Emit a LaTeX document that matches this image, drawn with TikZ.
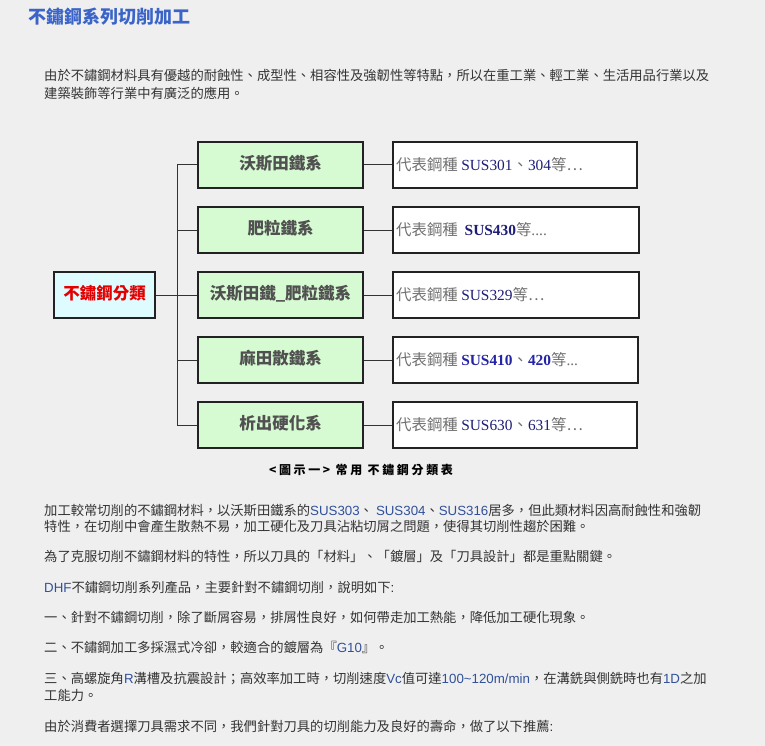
\documentclass[tikz,border=0pt]{standalone}
\usepackage{fontspec}
\setmainfont{Liberation Sans}
\newfontfamily\cjk{Noto Sans CJK TC}
\newfontfamily\lat{Liberation Sans}
\newfontfamily\tms{Liberation Serif}
\newfontfamily\cjkcap{Noto Sans CJK TC}[LetterSpace=22]
\definecolor{bg}{HTML}{EFEFEF}
\definecolor{txt}{HTML}{333333}
\definecolor{ttl}{HTML}{3A64C8}
\definecolor{rootfill}{HTML}{DEFCFF}
\definecolor{grnfill}{HTML}{D6FAD2}
\definecolor{grntxt}{HTML}{505050}
\definecolor{gtxt}{HTML}{707070}
\definecolor{navy}{HTML}{1E1E78}
\definecolor{blu}{HTML}{2424A8}
\definecolor{latc}{HTML}{30509A}
\definecolor{edge}{HTML}{222222}
\newcommand{\LA}[1]{{\lat\color{latc}#1}}
\newcommand{\SU}[1]{{\tms\color{navy}#1}}
\begin{document}
\begin{tikzpicture}[x=1pt,y=-1pt,
  body/.style={anchor=base west,inner sep=0pt,text=txt,font=\cjk\fontsize{13.3}{16}\selectfont},
  rootbox/.style={draw=edge,line width=1.2pt,fill=rootfill,minimum width=101pt,minimum height=46pt,inner sep=0pt,
     text=red!90!black,font=\cjk\bfseries\fontsize{16.5}{18}\selectfont},
  grnbox/.style={draw=edge,line width=1.2pt,fill=grnfill,minimum width=165pt,minimum height=46pt,inner sep=0pt,
     text=grntxt,font=\cjk\bfseries\fontsize{16.5}{18}\selectfont},
  whtbox/.style={draw=edge,line width=1.2pt,fill=white,minimum width=244pt,minimum height=46pt,inner sep=0pt},
  whttxt/.style={anchor=west,inner sep=0pt,text=gtxt,font=\cjk\fontsize{15.4}{18}\selectfont},
  conn/.style={draw=txt,line width=1pt}
]
\fill[bg] (0,0) rectangle (765,746);
\useasboundingbox (0,0) rectangle (765,746);

% title
\node[anchor=base west,inner sep=0pt,text=ttl,font=\cjk\bfseries\fontsize{18}{20}\selectfont] (title) at (28,24) {不鏽鋼系列切削加工};

% intro paragraph
\node[body] (p1a) at (44,81) {由於不鏽鋼材料具有優越的耐蝕性、成型性、相容性及強韌性等特點，所以在重工業、輕工業、生活用品行業以及};
\node[body] (p1b) at (44,99) {建築裝飾等行業中有廣泛的應用。};

% diagram
\node[rootbox] (root) at (104.5,295) {\raisebox{6pt}{不鏽鋼分類}};

\node[grnbox] (g1) at (280.5,165) {\raisebox{6pt}{沃斯田鐵系}};
\node[grnbox] (g2) at (280.5,230) {\raisebox{6pt}{肥粒鐵系}};
\node[grnbox] (g3) at (280.5,295) {\raisebox{6pt}{沃斯田鐵\_肥粒鐵系}};
\node[grnbox] (g4) at (280.5,360) {\raisebox{6pt}{麻田散鐵系}};
\node[grnbox] (g5) at (280.5,425) {\raisebox{6pt}{析出硬化系}};

\node[whtbox] (w1) at (515,165) {};
\node[whtbox,minimum width=246pt] (w2) at (516,230) {};
\node[whtbox,minimum width=246pt] (w3) at (516,295) {};
\node[whtbox,minimum width=245pt] (w4) at (515.5,360) {};
\node[whtbox] (w5) at (515,425) {};

\node[whttxt] (t1) at (396,165) {代表鋼種 \SU{SUS301}、\SU{304}等…};
\node[whttxt] (t2) at (396,230) {代表鋼種\ \ {\tms\bfseries\color{navy}SUS430}等{\tms....}};
\node[whttxt] (t3) at (396,295) {代表鋼種 \SU{SUS329}等…};
\node[whttxt] (t4) at (396,360) {代表鋼種 {\tms\bfseries\color{blu}SUS410}、{\tms\bfseries\color{blu}420}等{\tms...}};
\node[whttxt] (t5) at (396,425) {代表鋼種 \SU{SUS630}、\SU{631}等…};

\coordinate (vtop) at (177,165);
\coordinate (vbot) at (177,425);
\coordinate (vmid) at (177,295);
\draw[conn] (vtop) -- (vbot);
\draw[conn] (root.east) -- (g3.west);
\foreach \i in {1,2,4,5} { \draw[conn] (g\i.west -| vtop) -- (g\i.west); }
\foreach \i in {1,...,5} { \draw[conn] (g\i.east) -- (w\i.west); }

\node[anchor=center,inner sep=0pt,text=black,font=\cjkcap\bfseries\fontsize{12}{14}\selectfont] (cap) at (361,470) {<圖示一> 常用 不鏽鋼分類表};

% lower paragraphs
\node[body] (p2a) at (44,515) {加工較常切削的不鏽鋼材料，以沃斯田鐵系的\LA{SUS303}、 \LA{SUS304}、\LA{SUS316}居多，但此類材料因高耐蝕性和強韌};
\node[body] (p2b) at (44,531) {特性，在切削中會產生散熱不易，加工硬化及刀具沾粘切屑之問題，使得其切削性趨於困難。};
\node[body] (p3) at (44,561) {為了克服切削不鏽鋼材料的特性，所以刀具的「材料」、「鍍層」及「刀具設計」都是重點關鍵。};
\node[body] (p4) at (44,592) {\LA{DHF}不鏽鋼切削系列產品，主要針對不鏽鋼切削，說明如下{\lat:}};
\node[body] (p5) at (44,622) {一、針對不鏽鋼切削，除了斷屑容易，排屑性良好，如何帶走加工熱能，降低加工硬化現象。};
\node[body] (p6) at (44,652) {二、不鏽鋼加工多採濕式冷卻，較適合的鍍層為『\LA{G10}』。};
\node[body] (p7a) at (44,683) {三、高螺旋角\LA{R}溝槽及抗震設計；高效率加工時，切削速度\LA{Vc}值可達\LA{100\textasciitilde120m/min}，在溝銑與側銑時也有\LA{1D}之加};
\node[body] (p7b) at (44,700) {工能力。};
\node[body] (p8) at (44,731) {由於消費者選擇刀具需求不同，我們針對刀具的切削能力及良好的壽命，做了以下推薦{\lat:}};
\end{tikzpicture}
\end{document}
